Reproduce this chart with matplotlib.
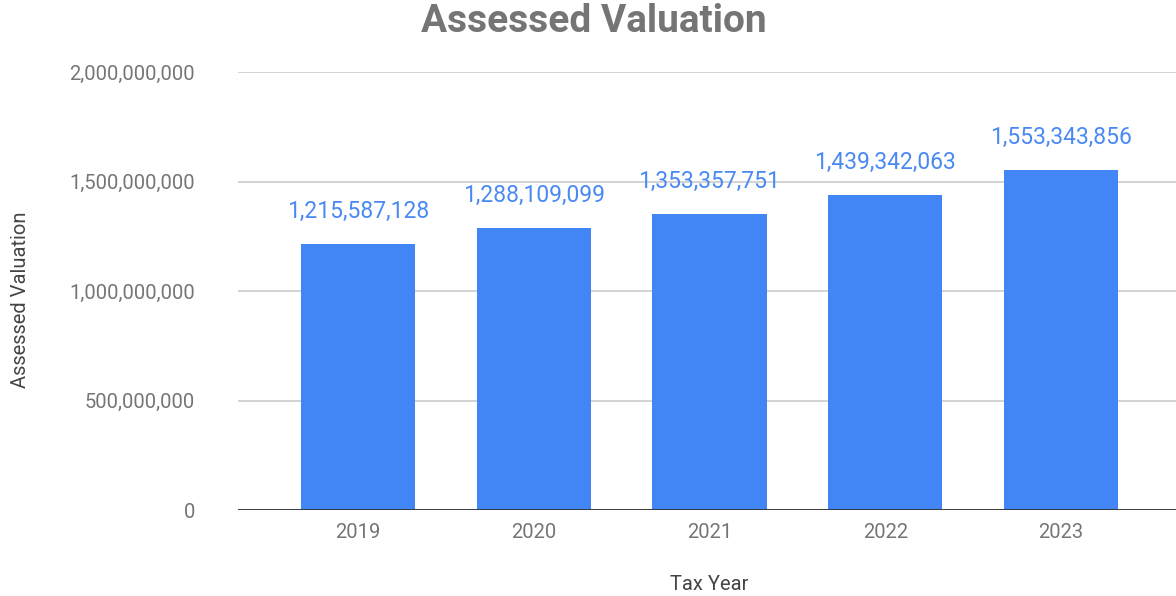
import matplotlib
matplotlib.use("Agg")
import matplotlib.pyplot as plt
from matplotlib.ticker import FuncFormatter

plt.rcParams['font.family'] = ['Roboto', 'DejaVu Sans']

years = ["2019", "2020", "2021", "2022", "2023"]
valuations = [1215587128, 1288109099, 1353357751, 1439342063, 1553343856]
y_ticks = [0, 500000000, 1000000000, 1500000000, 2000000000]

BAR = "#4285F4"
LABEL = "#4a89f3"
GRAY = "#757575"

fig = plt.figure(figsize=(11.76, 5.96), dpi=100)
ax = fig.add_axes([238 / 1176, 86 / 596, 943 / 1176, 438 / 596])

x = list(range(len(years)))
ax.bar(x, valuations, width=0.65, color=BAR, zorder=3)

for xi, v in zip(x, valuations):
    ax.annotate(f"{v:,}", (xi, v), xytext=(0, 23), textcoords="offset points",
                ha="center", va="center", fontsize=16.5, color=LABEL, zorder=4)

ax.set_xlim(-0.682, 4.682)
ax.set_ylim(0, 2000000000)
ax.set_yticks(y_ticks)
ax.yaxis.set_major_formatter(FuncFormatter(lambda v, p: f"{int(v):,}"))
ax.set_xticks(x)
ax.set_xticklabels(years)

ax.grid(axis="y", color="#cccccc", linewidth=1.2, zorder=0)
ax.axhline(0, color="#333333", linewidth=1.3, zorder=5)
for s in ax.spines.values():
    s.set_visible(False)
ax.tick_params(axis="both", length=0, labelsize=14.5, labelcolor=GRAY)
ax.tick_params(axis="y", pad=31)
ax.tick_params(axis="x", pad=9)

ax.set_xlabel("Tax Year", fontsize=14.5, color="#444444", labelpad=24)
fig.text(20 / 1176, 1 - 300 / 596, "Assessed Valuation", rotation=90,
         ha="center", va="center", fontsize=14.5, color="#444444")
fig.text(594 / 1176, 1 - 21 / 596, "Assessed Valuation", ha="center", va="center",
         fontsize=28, fontweight="bold", color=GRAY)

fig.savefig("out.png", dpi=100)
